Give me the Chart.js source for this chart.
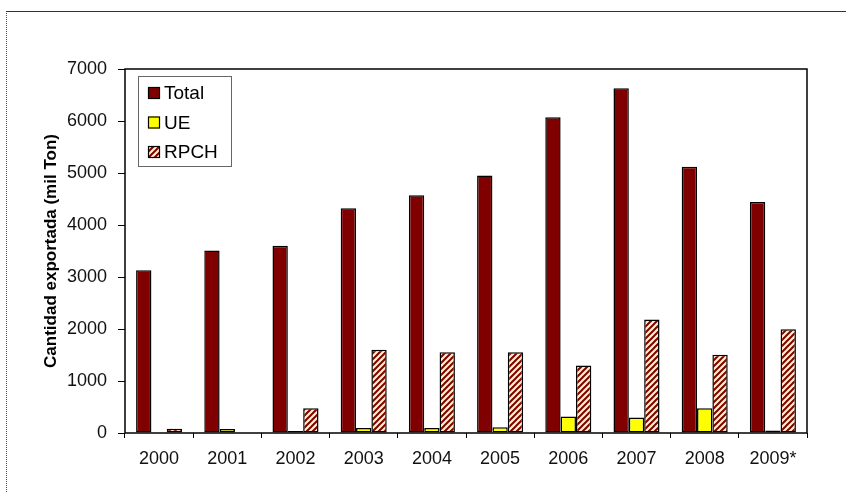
<!DOCTYPE html>
<html>
<head>
<meta charset="utf-8">
<script src="https://cdn.jsdelivr.net/npm/chart.js@4/dist/chart.umd.min.js"></script>
<style>
  html, body { margin: 0; padding: 0; background: #fff; }
  #wrap { position: relative; width: 846px; height: 493px; overflow: hidden; }
  #frame {
    position: absolute; left: 6px; top: 11px; width: 860px; height: 500px;
    border-top: 1px solid #333; border-left: 1px dotted #555;
  }
  canvas { position: absolute; left: 0; top: 0; }
</style>
</head>
<body>
<div id="wrap">
  <div id="frame"></div>
  <canvas id="c" width="846" height="493"></canvas>
</div>
<script>
// Exportaciones por año (miles de toneladas)
const years = ['2000', '2001', '2002', '2003', '2004', '2005', '2006', '2007', '2008', '2009*'];
const total = [3130, 3510, 3600, 4320, 4570, 4950, 6070, 6630, 5120, 4440];
const ue    = [null, 75, 40, 95, 95, 110, 315, 300, 475, 50];
const rpch  = [80, null, 475, 1600, 1555, 1555, 1300, 2185, 1505, 1995];
const seriesNames = ['Total', 'UE', 'RPCH'];
const yTicks = [0, 1000, 2000, 3000, 4000, 5000, 6000, 7000];

const FONT = '"Liberation Sans", Arial, sans-serif';
const MAROON = '#800000';

// Diagonal hatch fill for the RPCH series
function makeHatch() {
  const p = 6;
  const c = document.createElement('canvas');
  c.width = p; c.height = p;
  const g = c.getContext('2d');
  g.fillStyle = '#FFF1C8';
  g.fillRect(0, 0, p, p);
  g.strokeStyle = MAROON;
  g.lineWidth = 2;
  g.beginPath();
  g.moveTo(0, p); g.lineTo(p, 0);
  g.moveTo(-p / 2, p / 2); g.lineTo(p / 2, -p / 2);
  g.moveTo(p / 2, p * 1.5); g.lineTo(p * 1.5, p / 2);
  g.stroke();
  return g.createPattern(c, 'repeat');
}
const hatch = makeHatch();

// Box around the plot area plus the legend inside it
const plotDecor = {
  id: 'plotDecor',
  afterDraw(chart) {
    const ctx = chart.ctx;
    const a = chart.chartArea;
    ctx.save();
    ctx.strokeStyle = '#000';
    ctx.lineWidth = 1.5;
    ctx.strokeRect(a.left, a.top, a.right - a.left, a.bottom - a.top);

    // legend
    const lx = 138.5, ly = 76.5, lw = 93, lh = 90;
    ctx.fillStyle = '#fff';
    ctx.fillRect(lx, ly, lw, lh);
    ctx.strokeStyle = '#666';
    ctx.lineWidth = 1;
    ctx.strokeRect(lx, ly, lw, lh);
    ctx.font = '19px ' + FONT;
    ctx.textBaseline = 'middle';
    chart.data.datasets.forEach((ds, i) => {
      const cy = 93 + i * 29.5;
      ctx.fillStyle = ds.backgroundColor;
      ctx.fillRect(148, cy - 6, 12, 12);
      ctx.strokeStyle = '#000';
      ctx.lineWidth = 1.2;
      ctx.strokeRect(148.5, cy - 5.5, 11, 11);
      ctx.fillStyle = '#000';
      ctx.fillText(ds.label, 164, cy + 1);
    });
    ctx.restore();
  }
};

new Chart(document.getElementById('c'), {
  type: 'bar',
  data: {
    labels: years,
    datasets: [
      { label: seriesNames[0], data: total, backgroundColor: MAROON },
      { label: seriesNames[1], data: ue, backgroundColor: '#FFFF00' },
      { label: seriesNames[2], data: rpch, backgroundColor: hatch }
    ]
  },
  options: {
    responsive: false,
    animation: false,
    layout: { padding: { top: 69, right: 39, left: 0, bottom: 0 } },
    datasets: {
      bar: {
        borderColor: '#000',
        borderWidth: 1.5,
        borderSkipped: false,
        categoryPercentage: 0.675,
        barPercentage: 1.0
      }
    },
    plugins: {
      legend: { display: false },
      tooltip: { enabled: false }
    },
    scales: {
      x: {
        afterFit: (s) => { s.height = 60; },
        border: { display: false },
        grid: {
          display: true, drawOnChartArea: false, drawTicks: true,
          tickLength: 5, color: '#000', lineWidth: 1, offset: true
        },
        ticks: {
          color: '#111', padding: 10,
          font: { family: FONT, size: 18 }
        }
      },
      y: {
        min: 0, max: 7000,
        afterFit: (s) => { s.width = 125; },
        afterBuildTicks: (s) => { s.ticks = yTicks.map(v => ({ value: v })); },
        border: { display: false },
        grid: {
          display: true, drawOnChartArea: false, drawTicks: true,
          tickLength: 7, color: '#000', lineWidth: 1
        },
        ticks: {
          color: '#111', padding: 11,
          font: { family: FONT, size: 18 },
          callback: (v) => String(v)
        },
        title: {
          display: true,
          text: 'Cantidad exportada (mil Ton)',
          color: '#000',
          padding: { top: 41, bottom: 0 },
          font: { family: FONT, size: 17, weight: 'bold' }
        }
      }
    }
  },
  plugins: [plotDecor]
});
</script>
</body>
</html>
